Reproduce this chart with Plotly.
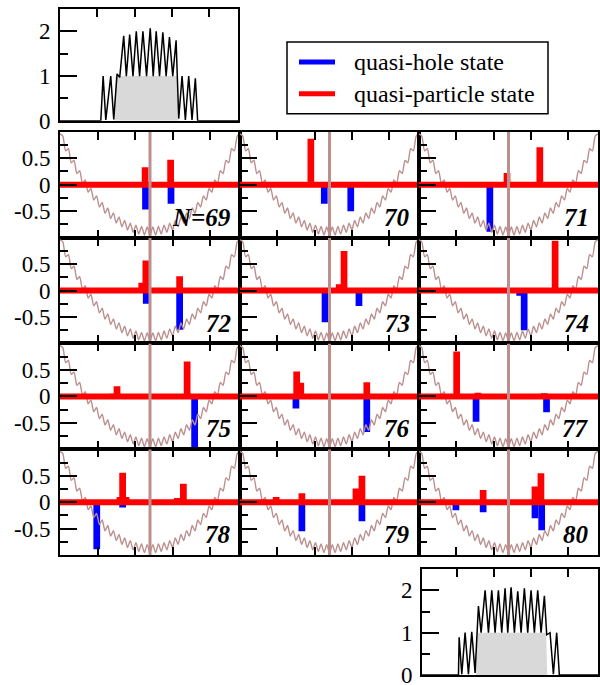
import plotly.graph_objects as go

W, H = 600, 685          # target picture size (pixels)
H_CSS = 697              # page height that ends up in the 685-pixel picture
SERIF = "Liberation Serif"
BROWN = "#bc8f8f"
GREY = "#d9d9d9"

# ---------------- data ----------------
panel_labels = ["N=69", "70", "71", "72", "73", "74", "75", "76", "77", "78", "79", "80"]

x_range = [0, 48]
y_range = [-1, 1]
x_ticks = [10, 20, 30, 40]
y_ticks = [-0.5, 0, 0.5]
y_ticktext = ["-0.5", "0", "0.5"]
y_minor = [-0.75, -0.25, 0.25, 0.75]

inset_y_range = [0, 2.5]
inset_y_ticks = [0, 1, 2]
inset_y_ticktext = ["0", "1", "2"]
inset_y_minor = [0.5, 1.5]

# trap + lattice potential (zig-zag vertices)
pot_x = [0, 0.75, 1.5, 2.25, 3, 3.75, 4.5, 5.25, 6, 6.75, 7.5, 8.25, 9, 9.75, 10.5, 11.25,
         12, 12.75, 13.5, 14.25, 15, 15.75, 16.5, 17.25, 18, 18.75, 19.5, 20.25, 21, 21.75,
         22.5, 23.25, 24, 24.75, 25.5, 26.25, 27, 27.75, 28.5, 29.25, 30, 30.75, 31.5, 32.25,
         33, 33.75, 34.5, 35.25, 36, 36.75, 37.5, 38.25, 39, 39.75, 40.5, 41.25, 42, 42.75,
         43.5, 44.25, 45, 45.75, 46.5, 47.25, 48]
pot_y = [0.96, 0.92, 0.64, 0.68, 0.415, 0.46, 0.21, 0.265, 0.025, 0.09, -0.14, -0.07,
         -0.29, -0.21, -0.42, -0.335, -0.54, -0.44, -0.64, -0.535, -0.725, -0.61,
         -0.795, -0.675, -0.855, -0.725, -0.90, -0.765, -0.93, -0.79, -0.95, -0.80,
         -0.955,
         -0.80, -0.95, -0.79, -0.93, -0.765, -0.90, -0.725, -0.855, -0.675, -0.795,
         -0.61, -0.725, -0.535, -0.64, -0.44, -0.54, -0.335, -0.42, -0.21, -0.29,
         -0.07, -0.14, 0.09, 0.025, 0.265, 0.21, 0.46, 0.415, 0.68, 0.64, 0.92, 0.96]

# quasi-particle (red) and quasi-hole (blue) amplitudes, one list per panel
red_x = [
    [21.5, 22.7, 26.6, 28.0, 29.5, 31.2],
    [17.8, 19.0, 20.3],
    [23.6, 32.4],
    [21.8, 22.9, 25.5, 27.5, 31.9],
    [22.6, 26.6, 27.9],
    [25.0, 36.5],
    [14.2, 15.2, 33.9],
    [14.0, 15.2, 16.3, 34.0],
    [10.1, 15.8, 33.6],
    [9.9, 16.0, 16.7, 17.6, 31.3, 32.9],
    [9.7, 16.6, 31.1, 32.7],
    [17.2, 31.1, 32.7],
]
red_y = [
    [0.05, 0.33, 0.03, 0.04, 0.47, 0.03],
    [0.04, 0.87, 0.05],
    [0.22, 0.71],
    [0.15, 0.57, 0.03, 0.05, 0.27],
    [0.03, 0.12, 0.75],
    [0.02, 0.94],
    [0.05, 0.19, 0.66],
    [0.03, 0.47, 0.26, 0.27],
    [0.85, 0.07, 0.06],
    [0.04, 0.10, 0.56, 0.10, 0.08, 0.35],
    [0.10, 0.17, 0.26, 0.50],
    [0.23, 0.30, 0.55],
]
blue_x = [
    [22.8, 29.6],
    [22.6, 29.7],
    [19.0],
    [23.0, 31.9],
    [22.8, 31.9],
    [27.0, 28.2],
    [35.9],
    [15.0, 34.0],
    [15.3, 34.2],
    [9.8, 16.7, 32.9],
    [16.6, 32.7],
    [9.9, 17.2, 31.1, 32.9],
]
blue_y = [
    [-0.47, -0.36],
    [-0.36, -0.50],
    [-0.89],
    [-0.25, -0.74],
    [-0.60, -0.29],
    [-0.10, -0.75],
    [-0.98],
    [-0.23, -0.67],
    [-0.48, -0.30],
    [-0.89, -0.10, -0.03],
    [-0.55, -0.36],
    [-0.15, -0.19, -0.30, -0.53],
]

# density profiles of the two insets
dens_top_x = [0, 10.93, 11.56, 12.27, 13.6, 14.4, 15.29, 16.0, 17.07, 17.78, 18.67, 19.56,
              20.44, 21.33, 22.22, 23.2, 24.18, 24.98, 25.78, 26.67, 27.56, 28.44, 29.33,
              30.22, 31.11, 31.82, 32.71, 33.6, 34.49, 35.38, 36.27, 36.89, 48]
dens_top_y = [0, 0, 1.0, 0.02, 1.0, 0.03, 1.05, 0.97, 1.9, 1.0, 1.93, 1.0, 2.0, 1.0, 2.0,
              1.0, 2.07, 1.0, 2.0, 1.0, 1.98, 1.0, 1.87, 1.0, 1.8, 0.05, 1.0, 0.02, 1.0,
              0.02, 0.95, 0, 0]
fill_top_x = [14.5, 14.9, 31.5, 31.82]
fill_top_y = [0, 1.0, 1.0, 0]

dens_bot_x = [0, 10.34, 10.52, 11.24, 12.13, 13.03, 13.93, 14.83, 15.73, 16.45, 17.53, 18.43,
              19.33, 20.22, 21.12, 22.02, 22.92, 23.64, 24.54, 25.44, 26.34, 27.24, 28.13,
              29.03, 29.93, 30.83, 31.73, 32.63, 33.53, 34.16, 35.06, 35.96, 36.85, 37.57, 48]
dens_bot_y = [0, 0, 0.89, 0.02, 1.0, 0.02, 1.02, 0.05, 1.63, 1.0, 2.0, 1.0, 2.0, 1.0, 2.0,
              1.0, 2.05, 1.0, 2.07, 1.0, 1.98, 1.0, 2.05, 1.0, 2.0, 1.0, 2.0, 1.0, 1.87,
              0.95, 1.0, 0.02, 1.0, 0, 0]
fill_bot_x = [15.0, 15.5, 34.0, 34.3]
fill_bot_y = [0, 1.0, 1.0, 0]

legend_names = ["quasi-hole state", "quasi-particle state"]

# ---------------- layout geometry (pixels of the picture) ----------------
col_px = [(60, 240), (240, 419), (419, 598)]
row_px = [(132, 238), (238, 344), (344, 450), (450, 556)]
top_inset_px = ((60, 238), (9, 121))
bot_inset_px = ((422, 598), (570, 676))


def fx(px):
    return px / W


def fy(py):
    return 1 - py / H


def names(n):
    if n == 1:
        return "xaxis", "yaxis", "x", "y"
    return f"xaxis{n}", f"yaxis{n}", f"x{n}", f"y{n}"


fig = go.Figure()
layout_axes = {}
annotations = []
shapes = []

tickfont = dict(family=SERIF, size=23, color="black")

for i in range(12):
    r, c = divmod(i, 3)
    n = i + 1
    xa, ya, xr, yr = names(n)
    (x0, x1), (y0, y1) = col_px[c], row_px[r]
    layout_axes[xa] = dict(domain=[fx(x0), fx(x1)], range=x_range, anchor=yr,
                           showgrid=False, zeroline=False, showline=True, mirror="ticks",
                           linecolor="black", linewidth=2, ticks="inside", ticklen=8,
                           tickwidth=2, tickcolor="black", tickvals=x_ticks,
                           showticklabels=False, fixedrange=True)
    layout_axes[ya] = dict(domain=[fy(y1), fy(y0)], range=y_range, anchor=xr,
                           showgrid=False, zeroline=False, showline=True, mirror=True,
                           linecolor="black", linewidth=2, ticks="inside", ticklen=17,
                           tickwidth=2, tickcolor="black", tickvals=y_ticks,
                           ticktext=y_ticktext, showticklabels=(c == 0), tickfont=tickfont,
                           ticklabelstandoff=3,
                           minor=dict(tickvals=y_minor, ticks="inside", ticklen=8,
                                      tickwidth=2, tickcolor="black"),
                           fixedrange=True)
    # potential
    fig.add_trace(go.Scatter(x=pot_x, y=pot_y, mode="lines", xaxis=xr, yaxis=yr,
                             line=dict(color=BROWN, width=1.4, shape="spline", smoothing=0.6),
                             hoverinfo="skip"))
    # bars
    fig.add_trace(go.Bar(x=blue_x[i], y=blue_y[i], width=1.8, xaxis=xr, yaxis=yr,
                         marker=dict(color="#0000ff", line=dict(width=0))))
    fig.add_trace(go.Bar(x=red_x[i], y=red_y[i], width=1.8, xaxis=xr, yaxis=yr,
                         marker=dict(color="#ff0000", line=dict(width=0))))
    # zero band
    fig.add_trace(go.Scatter(x=x_range, y=[0, 0], mode="lines", xaxis=xr, yaxis=yr,
                             line=dict(color="#ff0000", width=6), hoverinfo="skip"))
    # trap centre
    xc = (x_range[0] + x_range[1]) / 2
    fig.add_trace(go.Scatter(x=[xc, xc], y=y_range, mode="lines", xaxis=xr, yaxis=yr,
                             line=dict(color=BROWN, width=3), hoverinfo="skip"))
    annotations.append(dict(x=fx(x1 - 7), y=fy(y1 - 5), xref="paper", yref="paper",
                            xanchor="right", yanchor="bottom", showarrow=False,
                            text=f"<b><i>{panel_labels[i]}</i></b>",
                            font=dict(family=SERIF, size=25, color="black")))

# insets
for n, ((x0, x1), (y0, y1)), xr_range, dx, dy, fx_, fy_ in [
    (13, top_inset_px, [0, 47.7], dens_top_x, dens_top_y, fill_top_x, fill_top_y),
    (14, bot_inset_px, [0.5, 48], dens_bot_x, dens_bot_y, fill_bot_x, fill_bot_y),
]:
    xa, ya, xr, yr = names(n)
    layout_axes[xa] = dict(domain=[fx(x0), fx(x1)], range=xr_range, anchor=yr, side="top",
                           showgrid=False, zeroline=False, showline=True, mirror=True,
                           linecolor="black", linewidth=2, ticks="inside", ticklen=8,
                           tickwidth=2, tickcolor="black", tickvals=x_ticks,
                           showticklabels=False, fixedrange=True)
    layout_axes[ya] = dict(domain=[fy(y1), fy(y0)], range=inset_y_range, anchor=xr,
                           showgrid=False, zeroline=False, showline=True, mirror=True,
                           linecolor="black", linewidth=2, ticks="inside", ticklen=17,
                           tickwidth=2, tickcolor="black", tickvals=inset_y_ticks,
                           ticktext=inset_y_ticktext, tickfont=tickfont, ticklabelstandoff=3,
                           minor=dict(tickvals=inset_y_minor, ticks="inside", ticklen=8,
                                      tickwidth=2, tickcolor="black"),
                           fixedrange=True)
    fig.add_trace(go.Scatter(x=fx_, y=fy_, mode="lines", fill="toself", fillcolor=GREY,
                             line=dict(width=0), xaxis=xr, yaxis=yr, hoverinfo="skip"))
    fig.add_trace(go.Scatter(x=dx, y=dy, mode="lines", xaxis=xr, yaxis=yr,
                             line=dict(color="black", width=1.5), hoverinfo="skip"))

# legend box (drawn by hand to match the original placement)
shapes.append(dict(type="rect", xref="paper", yref="paper", x0=fx(287), x1=fx(548),
                   y0=fy(114), y1=fy(42), line=dict(color="black", width=1.5),
                   fillcolor="white", layer="above"))
for k, (name, col, py) in enumerate(zip(legend_names, ["#0000ff", "#ff0000"], [62, 94])):
    shapes.append(dict(type="line", xref="paper", yref="paper", x0=fx(299), x1=fx(335),
                       y0=fy(py), y1=fy(py), line=dict(color=col, width=5), layer="above"))
    annotations.append(dict(x=fx(352), y=fy(py), xref="paper", yref="paper",
                            xanchor="left", yanchor="middle", showarrow=False, text=name,
                            font=dict(family=SERIF, size=24, color="black")))

fig.update_layout(width=W, height=H_CSS, autosize=False, margin=dict(l=0, r=0, t=0, b=0),
                  paper_bgcolor="white", plot_bgcolor="white", showlegend=False,
                  barmode="overlay", annotations=annotations, shapes=shapes,
                  **layout_axes)

fig.write_html("out.html",
               config={"displayModeBar": False, "responsive": False},
               post_script="document.body.style.margin='0';document.body.style.overflow='hidden';")
